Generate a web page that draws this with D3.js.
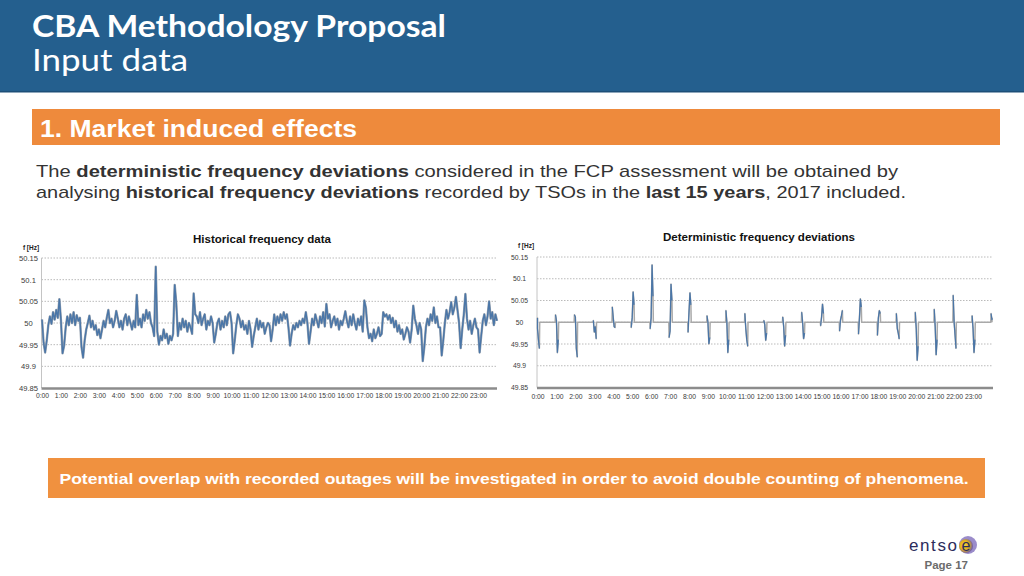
<!DOCTYPE html>
<html><head><meta charset="utf-8">
<script src="https://cdn.jsdelivr.net/npm/d3@7"></script>
<style>
html,body{margin:0;padding:0;background:#fff;}
svg{display:block;}
</style></head>
<body>
<svg id="slide" width="1024" height="576"></svg>
<script>
// ---------- DATA ----------
const hourLabels = ["0:00","1:00","2:00","3:00","4:00","5:00","6:00","7:00","8:00","9:00","10:00","11:00",
  "12:00","13:00","14:00","15:00","16:00","17:00","18:00","19:00","20:00","21:00","22:00","23:00"];
const yTickValues = [49.85, 49.9, 49.95, 50, 50.05, 50.1, 50.15];
const yTickLabels = ["49.85","49.9","49.95","50","50.05","50.1","50.15"];
const sampleStepMin = 5;
// historical frequency [Hz], one value every 5 minutes from 0:00 to 24:00
const historicalHz = [
  50.008,49.955,49.932,49.96,49.995,50.015,49.998,50.025,50.008,50.03,50.012,50.055,
  50.006,49.93,49.948,49.99,50.015,49.995,50.02,50.0,50.025,49.995,50.018,50.005,
  50.012,49.945,49.92,49.96,49.985,50.0,50.017,49.99,50.005,49.985,49.995,49.972,
  49.985,49.965,49.985,50.005,49.99,50.012,50.03,50.0,50.01,49.99,50.005,50.028,
  50.01,49.99,50.005,49.985,50.01,50.02,49.995,50.015,50.0,49.985,50.005,49.99,
  50.065,49.995,50.01,49.99,50.02,50.005,50.03,50.01,50.025,50.0,49.99,49.97,
  50.13,49.98,49.95,49.97,49.96,49.985,49.965,49.975,49.952,49.97,49.96,49.975,
  50.088,50.045,49.97,50.0,49.985,50.01,49.99,50.005,49.98,50.0,49.99,49.975,
  50.068,50.02,50.015,50.0,50.025,49.995,50.01,50.02,49.985,50.005,49.995,50.015,
  50.0,49.955,49.975,50.0,50.01,49.985,50.005,49.99,50.015,49.995,50.02,50.025,
  50.0,49.93,49.96,49.995,50.02,50.01,49.99,50.005,49.985,49.995,49.975,50.005,
  49.985,49.945,49.97,49.99,50.01,49.985,50.005,49.99,50.0,49.975,49.99,50.0,
  49.995,49.958,49.985,50.02,49.995,50.015,50.0,50.02,50.005,50.025,50.01,50.02,
  49.99,49.948,49.975,49.995,49.985,50.0,49.99,50.005,49.995,50.01,50.0,50.025,
  50.0,49.952,49.98,50.01,49.995,50.02,50.005,49.99,50.015,50.0,50.025,49.992,
  50.044,50.01,50.02,49.99,50.005,50.015,49.995,50.01,49.985,50.005,49.995,50.01,
  50.027,50.005,49.99,50.015,49.995,50.02,50.0,49.985,50.01,49.995,50.015,49.98,
  50.052,50.035,49.99,49.965,49.975,49.958,49.985,49.965,49.975,49.99,49.97,49.975,
  50.025,50.015,50.02,50.008,50.018,50.0,50.012,49.99,50.005,49.98,49.995,49.975,
  49.985,49.962,49.975,49.99,49.98,49.955,49.985,50.04,50.01,49.995,49.975,50.0,
  49.985,49.912,49.945,49.99,50.01,49.995,50.02,50.005,50.036,50.0,50.015,49.99,
  49.99,49.925,49.96,50.0,50.03,50.01,50.025,50.048,50.02,50.035,50.06,50.03,
  50.0,49.942,49.985,50.02,50.067,50.01,49.985,50.005,49.975,49.995,50.01,49.99,
  49.985,49.932,49.97,50.005,50.02,49.995,50.015,50.05,50.01,50.025,49.995,50.02,
  50.005
];
// deterministic deviations: short events around each hour change, 50 Hz otherwise
const baselineHz = 50;
const eventHours = [0,1,2,3,4,5,6,7,8,9,10,11,12,13,14,15,16,17,18,19,20,21,22,23,24];
const eventOffsetsMin = [-3, 0, 3, 6];
const eventHz = [
  [50.01,49.985,49.96,49.94],
  [50.017,50.004,49.93,49.96],
  [50.017,50.012,49.94,49.92],
  [50.004,49.977,49.99,49.962],
  [50.035,50.01,49.99,49.988],
  [49.988,50.01,50.07,50.04],
  [49.985,50.01,50.132,50.06],
  [49.965,49.98,50.088,50.05],
  [49.977,50.023,50.068,50.04],
  [50.015,50.0,49.95,49.965],
  [50.027,50.0,49.93,49.96],
  [50.02,49.985,49.96,49.945],
  [50.004,49.995,49.958,49.975],
  [50.012,49.99,49.945,49.97],
  [50.023,50.0,49.962,49.975],
  [49.992,50.012,50.042,50.02],
  [49.98,50.005,50.015,50.027],
  [49.973,50.01,50.054,50.035],
  [49.97,50.01,50.027,50.02],
  [50.02,49.985,49.975,49.962],
  [50.023,49.985,49.912,49.945],
  [50.03,49.99,49.925,49.96],
  [50.062,50.0,49.97,49.94],
  [50.015,49.985,49.93,49.96],
  [50.02,50.005,50.01,50.01]
];

// ---------- SLIDE ----------
const svg = d3.select("#slide");
svg.append("rect").attr("x",0).attr("y",0).attr("width",1024).attr("height",92).attr("fill","#245f8e");
svg.append("rect").attr("x",0).attr("y",91).attr("width",1024).attr("height",1.5).attr("fill","#1d4f78");
svg.append("text").attr("x",32).attr("y",37).attr("fill","#fff")
  .attr("font-family","Lato, 'Open Sans', sans-serif").attr("font-weight","bold").attr("font-size",30)
  .attr("textLength",414).attr("lengthAdjust","spacingAndGlyphs").text("CBA Methodology Proposal");
svg.append("text").attr("x",32).attr("y",71).attr("fill","#fff")
  .attr("font-family","Lato, 'Open Sans', sans-serif").attr("font-weight",400).attr("font-size",30)
  .attr("textLength",156).attr("lengthAdjust","spacingAndGlyphs").text("Input data");

svg.append("rect").attr("x",32).attr("y",109).attr("width",968).attr("height",36).attr("fill","#ee8a3c");
svg.append("text").attr("x",40).attr("y",137).attr("fill","#fff")
  .attr("font-family","'Liberation Sans', Arial, sans-serif").attr("font-weight","bold").attr("font-size",23)
  .attr("textLength",317).attr("lengthAdjust","spacingAndGlyphs").text("1. Market induced effects");

function richLine(y, parts, len){
  const t = svg.append("text").attr("x",36).attr("y",y).attr("fill","#333")
    .attr("font-family","'Liberation Sans', Arial, sans-serif").attr("font-size",17)
    .attr("textLength",len).attr("lengthAdjust","spacingAndGlyphs");
  parts.forEach(p => t.append("tspan").attr("font-weight", p[1] ? "bold" : "normal").text(p[0]));
}
richLine(177, [["The ",0],["deterministic frequency deviations",1],[" considered in the FCP assessment will be obtained by",0]], 862);
richLine(198, [["analysing ",0],["historical frequency deviations",1],[" recorded by TSOs in the ",0],["last 15 years",1],[", 2017 included.",0]], 870);

svg.append("rect").attr("x",48).attr("y",458).attr("width",937).attr("height",40).attr("fill","#f0913f");
svg.append("text").attr("x",514).attr("y",484).attr("text-anchor","middle").attr("fill","#fff")
  .attr("font-family","'Liberation Sans', Arial, sans-serif").attr("font-weight","bold").attr("font-size",15)
  .attr("textLength",909).attr("lengthAdjust","spacingAndGlyphs")
  .text("Potential overlap with recorded outages will be investigated in order to avoid double counting of phenomena.");

// footer logo
const defs = svg.append("defs");
const rg = defs.append("radialGradient").attr("id","logoG").attr("cx","40%").attr("cy","45%").attr("r","60%");
rg.append("stop").attr("offset","0%").attr("stop-color","#f7d23a");
rg.append("stop").attr("offset","55%").attr("stop-color","#e2b21c");
rg.append("stop").attr("offset","100%").attr("stop-color","#6d5aa8");
svg.append("circle").attr("cx",968).attr("cy",545).attr("r",9).attr("fill","#7a66b8").attr("opacity",0.75);
svg.append("circle").attr("cx",966).attr("cy",546).attr("r",7).attr("fill","url(#logoG)");
svg.append("text").attr("x",909).attr("y",551).attr("fill","#2c2c5c")
  .attr("font-family","'Liberation Sans', Arial, sans-serif").attr("font-size",17).attr("letter-spacing",1.6)
  .text("entso");
svg.append("text").attr("x",966).attr("y",551).attr("text-anchor","middle").attr("fill","#2c2c5c")
  .attr("font-family","'Liberation Sans', Arial, sans-serif").attr("font-size",16).text("e");
svg.append("text").attr("x",968).attr("y",569).attr("text-anchor","end").attr("fill","#6b6b6b")
  .attr("font-family","'Liberation Sans', Arial, sans-serif").attr("font-weight","bold").attr("font-size",11.5)
  .text("Page 17");

// ---------- CHARTS ----------
function drawFrame(cfg){
  const g = svg.append("g");
  const x = d3.scaleLinear().domain([0,24]).range([cfg.x0, cfg.x1]);
  const y = d3.scaleLinear().domain([49.85,50.15]).range([cfg.yb, cfg.yt]);
  g.append("g").selectAll("line").data(yTickValues.filter(v => v > 49.85)).join("line")
    .attr("x1", cfg.ax).attr("x2", cfg.xEnd).attr("y1", d => y(d)).attr("y2", d => y(d))
    .attr("stroke","#a8a8a8").attr("stroke-width",0.8).attr("stroke-dasharray","1.5,1.5");
  g.append("line").attr("x1",cfg.ax).attr("x2",cfg.ax).attr("y1",y(50.15)).attr("y2",y(49.85))
    .attr("stroke","#c4c4c4").attr("stroke-width",1);
  const ya = g.append("g").attr("transform",`translate(${cfg.labX},0)`)
    .call(d3.axisLeft(y).tickValues(yTickValues).tickSize(0).tickPadding(0)
      .tickFormat((d,i) => yTickLabels[i]));
  ya.select(".domain").remove();
  ya.selectAll("text").attr("text-anchor","middle").attr("x",0).attr("fill","#3a3a3a")
    .attr("font-family","'Liberation Sans', Arial, sans-serif").attr("font-size",cfg.yFont);
  const xa = g.append("g").attr("transform",`translate(0,${cfg.xLabY})`)
    .call(d3.axisBottom(x).tickValues(d3.range(hourLabels.length)).tickSize(0).tickPadding(0)
      .tickFormat((d,i) => hourLabels[i]));
  xa.select(".domain").remove();
  xa.selectAll("text").attr("fill","#3a3a3a")
    .attr("font-family","'Liberation Sans', Arial, sans-serif").attr("font-size",6.8);
  g.append("line").attr("x1",cfg.ax).attr("x2",cfg.xEnd).attr("y1",y(49.85)+0.5).attr("y2",y(49.85)+0.5)
    .attr("stroke","#8c8c8c").attr("stroke-width",2.6);
  g.append("text").attr("x",cfg.titleX).attr("y",cfg.titleY).attr("text-anchor","middle").attr("fill","#111")
    .attr("font-family","'Liberation Sans', Arial, sans-serif").attr("font-weight","bold").attr("font-size",11.5)
    .attr("textLength",cfg.titleLen).attr("lengthAdjust","spacingAndGlyphs").text(cfg.title);
  g.append("text").attr("x",cfg.unitX).attr("y",cfg.unitY).attr("text-anchor","middle").attr("fill","#222")
    .attr("font-family","'Liberation Sans', Arial, sans-serif").attr("font-weight","bold").attr("font-size",6.5)
    .text("f [Hz]");
  return {g, x, y};
}

// Left chart: historical
const L = drawFrame({x0:42, x1:497, yb:388, yt:258, ax:41.5, xEnd:497, labX:28.5, yFont:7.6,
  xLabY:393, title:"Historical frequency data", titleX:262, titleY:243, titleLen:138, unitX:31, unitY:250});
const histPts = historicalHz.map((v,i) => [i*sampleStepMin/60, v]);
const lineL = d3.line().x(d => L.x(d[0])).y(d => L.y(d[1]));
L.g.append("path").attr("d", lineL(histPts)).attr("fill","none").attr("stroke","#9aa4b0").attr("stroke-width",2.4)
  .attr("stroke-linejoin","round");
L.g.append("path").attr("d", lineL(histPts)).attr("fill","none").attr("stroke","#4a76a8").attr("stroke-width",1.4)
  .attr("stroke-linejoin","round");

// Right chart: deterministic
const R = drawFrame({x0:537.5, x1:992, yb:387.5, yt:257, ax:537, xEnd:993, labX:519.5, yFont:6.8,
  xLabY:394, title:"Deterministic frequency deviations", titleX:759, titleY:241, titleLen:192, unitX:526, unitY:248});
const clampH = h => Math.max(0, Math.min(24, h));
const detPts = [[0, baselineHz]];
const eventPaths = [];
eventHours.forEach((h,k) => {
  const ev = eventOffsetsMin.map((m,j) => [clampH(h + m/60), eventHz[k][j]]);
  detPts.push([clampH(h + (eventOffsetsMin[0]-1)/60), baselineHz]);
  ev.forEach(p => detPts.push(p));
  detPts.push([clampH(h + (eventOffsetsMin[eventOffsetsMin.length-1]+1)/60), baselineHz]);
  eventPaths.push(ev);
});
const lineR = d3.line().x(d => R.x(d[0])).y(d => R.y(d[1]));
R.g.append("path").attr("d", lineR(detPts)).attr("fill","none").attr("stroke","#a9a9a9").attr("stroke-width",1.5)
  .attr("stroke-linejoin","round");
R.g.selectAll("path.ev").data(eventPaths).join("path").attr("class","ev")
  .attr("d", d => lineR(d)).attr("fill","none").attr("stroke","#4a76a8").attr("stroke-width",1.2);
</script>
</body></html>
